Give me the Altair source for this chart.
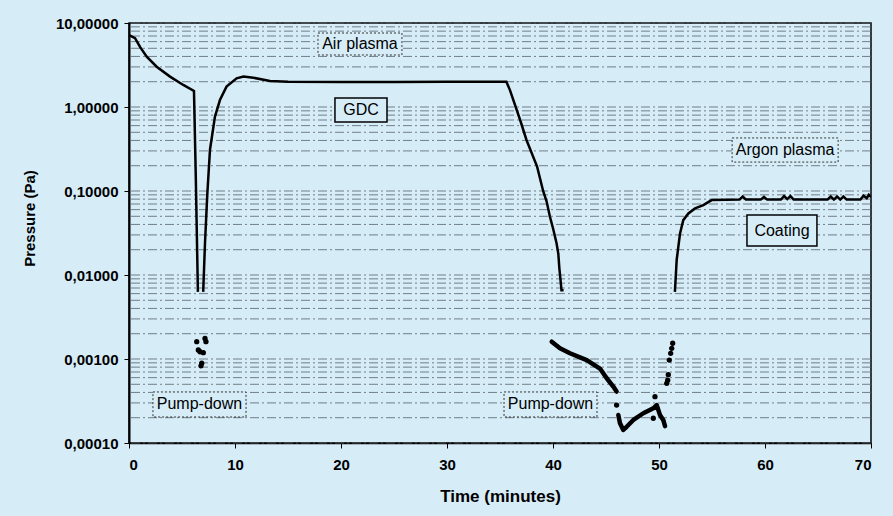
import altair as alt
import pandas as pd

BG = "#d6edf8"

# ---- data ----
# Air plasma curve + first drop
t_air = [0, 0.57, 1.04, 1.67, 2.61, 3.87, 5.12, 6.13, 6.30, 6.50]
p_air = [7.2, 6.6, 5.2, 3.97, 3.02, 2.30, 1.83, 1.55, 0.15, 0.0063]

# GDC rise, plateau and second drop
t_gdc = [7.0, 7.17, 7.39, 7.64, 8.11, 8.58, 9.2, 10.15, 10.8, 11.73, 13.3, 15, 20, 25, 30,
         35.6, 35.94, 36.9, 37.5, 38.5, 39.07, 39.4, 39.7, 40.0, 40.33, 40.5, 40.6, 40.7, 40.8, 41.0]
p_gdc = [0.0063, 0.024, 0.093, 0.31, 0.77, 1.21, 1.75, 2.19, 2.3, 2.23, 2.04, 2.0, 1.98, 1.98, 2.0,
         2.0, 1.59, 0.70, 0.405, 0.195, 0.10, 0.075, 0.05, 0.036, 0.024, 0.018, 0.012, 0.009, 0.0066, 0.0066]

# Coating (argon plasma) curve
t_coat = [51.5, 51.67, 51.98, 52.29, 52.77, 53.4, 54.18, 54.97, 57.6, 57.9, 58.2, 59.6, 59.9, 60.2,
          61.5, 61.8, 62.1, 62.4, 62.7, 65.9, 66.2, 66.5, 66.8, 67.1, 67.4, 67.7, 69.0, 69.3, 69.6, 69.8, 70.0]
p_coat = [0.0063, 0.0152, 0.031, 0.045, 0.054, 0.062, 0.068, 0.078, 0.079, 0.086, 0.079, 0.079, 0.085, 0.079,
          0.079, 0.087, 0.080, 0.087, 0.079, 0.079, 0.086, 0.079, 0.086, 0.079, 0.086, 0.079, 0.079, 0.088, 0.082, 0.09, 0.085]

# Second pump-down: dense descending run of readings
t_pd2 = [39.88, 40.66, 41.6, 43.18, 44.43, 45.07, 45.69, 46.0]
p_pd2 = [0.00161, 0.00134, 0.00117, 0.00097, 0.00077, 0.00059, 0.00047, 0.00041]

# Second pump-down: V-shaped run
t_v = [46.16, 46.32, 46.63, 46.95, 47.58, 48.52, 49.46, 49.78, 50.09, 50.4, 50.57]
p_v = [0.000216, 0.000172, 0.000143, 0.000156, 0.000188, 0.000226, 0.000259, 0.000283, 0.000216, 0.000188, 0.000159]

# Isolated readings (dots)
t_dots = [6.39, 7.17, 7.26, 6.54, 6.70, 7.01, 6.86, 6.79,
          46.0, 49.62, 49.46,
          50.73, 50.82, 50.88, 50.97, 51.1, 51.2, 51.29]
p_dots = [0.00161, 0.00176, 0.00161, 0.00128, 0.00122, 0.00119, 0.00089, 0.00083,
          0.000283, 0.000356, 0.000197,
          0.000514, 0.00056, 0.00065, 0.00097, 0.00117, 0.00134, 0.00154]

# Annotation boxes
labels = ["Air plasma", "GDC", "Argon plasma", "Coating", "Pump-down", "Pump-down"]
box_t1 = [17.83, 19.43, 56.9, 58.3, 2.26, 35.38]
box_t2 = [25.75, 24.34, 66.9, 64.9, 11.04, 44.15]
box_p1 = [7.60, 1.28, 0.428, 0.0518, 0.000405, 0.000405]
box_p2 = [4.16, 0.662, 0.221, 0.0221, 0.000204, 0.000204]
box_solid = [False, True, False, True, False, False]

x_ticks = [0, 10, 20, 30, 40, 50, 60, 70]
y_ticks = [0.0001, 0.001, 0.01, 0.1, 1, 10]
grid_vals = [m * 10.0 ** k for k in range(-4, 1) for m in range(1, 10)] + [10.0]

# ---- tables ----
thin = pd.concat([
    pd.DataFrame({"t": t_air, "p": p_air, "seg": "air"}),
    pd.DataFrame({"t": t_gdc, "p": p_gdc, "seg": "gdc"}),
    pd.DataFrame({"t": t_coat, "p": p_coat, "seg": "coat"}),
])
thick = pd.concat([
    pd.DataFrame({"t": t_pd2, "p": p_pd2, "seg": "pd2"}),
    pd.DataFrame({"t": t_v, "p": p_v, "seg": "v"}),
])
dots = pd.DataFrame({"t": t_dots, "p": p_dots})
boxes = pd.DataFrame({"label": labels, "t1": box_t1, "t2": box_t2, "p1": box_p1, "p2": box_p2,
                      "solid": box_solid})
boxes["tc"] = (boxes["t1"] + boxes["t2"]) / 2
boxes["pc"] = (boxes["p1"] * boxes["p2"]) ** 0.5
grid = pd.DataFrame({"g": grid_vals})

xs = alt.Scale(domain=[0, 70], nice=False, zero=False)
ys = alt.Scale(type="log", domain=[0.0001, 10], nice=False)

xaxis = alt.Axis(values=x_ticks, grid=False, labelFont="Liberation Sans", labelFontWeight="bold",
                 labelFontSize=15, labelColor="black", labelPadding=9, tickSize=5, tickColor="black",
                 domainColor="black", domainWidth=1.5, title="Time (minutes)",
                 titleFont="Liberation Sans", titleFontWeight="bold", titleFontSize=17, titleColor="black",
                 titleX=371, titleY=53, titleBaseline="middle", titleAlign="center")
yaxis = alt.Axis(values=y_ticks, grid=False, labelFont="Liberation Sans", labelFontWeight="bold",
                 labelFontSize=15, labelColor="black", labelPadding=6, tickSize=5, tickColor="black",
                 domainColor="black", domainWidth=2,
                 labelExpr="replace(format(datum.value, '.5f'), '.', ',')",
                 title="Pressure (Pa)", titleFont="Liberation Sans", titleFontWeight="bold",
                 titleFontSize=15, titleColor="black", titleX=-100, titleY=195,
                 titleBaseline="middle", titleAlign="center", titleAngle=-90)

grid_layer = alt.Chart(grid).mark_rule(color="#56626c", strokeWidth=1, strokeDash=[9, 3, 2, 3],
                                       opacity=0.8).encode(
    y=alt.Y("g:Q", scale=ys, axis=yaxis)
)

box_dotted = alt.Chart(boxes[~boxes["solid"]]).mark_rect(
    fill=BG, stroke="#333333", strokeWidth=1, strokeDash=[2, 2]).encode(
    x=alt.X("t1:Q", scale=xs, axis=xaxis), x2="t2:Q",
    y=alt.Y("p1:Q", scale=ys), y2="p2:Q")
box_solid_l = alt.Chart(boxes[boxes["solid"]]).mark_rect(
    fill=BG, stroke="black", strokeWidth=1.5).encode(
    x=alt.X("t1:Q", scale=xs), x2="t2:Q",
    y=alt.Y("p1:Q", scale=ys), y2="p2:Q")
box_text = alt.Chart(boxes).mark_text(font="Liberation Sans", fontSize=16, color="black",
                                      baseline="middle", align="center").encode(
    x=alt.X("tc:Q", scale=xs), y=alt.Y("pc:Q", scale=ys), text="label:N")

thin_lines = alt.Chart(thin).mark_line(color="black", strokeWidth=2.5, clip=True).encode(
    x=alt.X("t:Q", scale=xs), y=alt.Y("p:Q", scale=ys), detail="seg:N", order="t:Q")
thick_lines = alt.Chart(thick).mark_line(color="black", strokeWidth=4.5, strokeCap="round",
                                         strokeJoin="round", clip=True).encode(
    x=alt.X("t:Q", scale=xs), y=alt.Y("p:Q", scale=ys), detail="seg:N", order="t:Q")
dot_layer = alt.Chart(dots).mark_circle(color="black", size=28, opacity=1).encode(
    x=alt.X("t:Q", scale=xs), y=alt.Y("p:Q", scale=ys))

chart = alt.layer(grid_layer, box_dotted, box_solid_l, box_text, thin_lines, thick_lines, dot_layer).properties(
    width=742, height=420,
    autosize=alt.AutoSizeParams(type="none"),
    padding={"left": 129, "top": 23, "right": 22, "bottom": 73},
    background=BG,
).configure_view(stroke="black", strokeWidth=1.5, fill=BG)

chart.save("out.html", embed_options={"renderer": "svg", "actions": False})
